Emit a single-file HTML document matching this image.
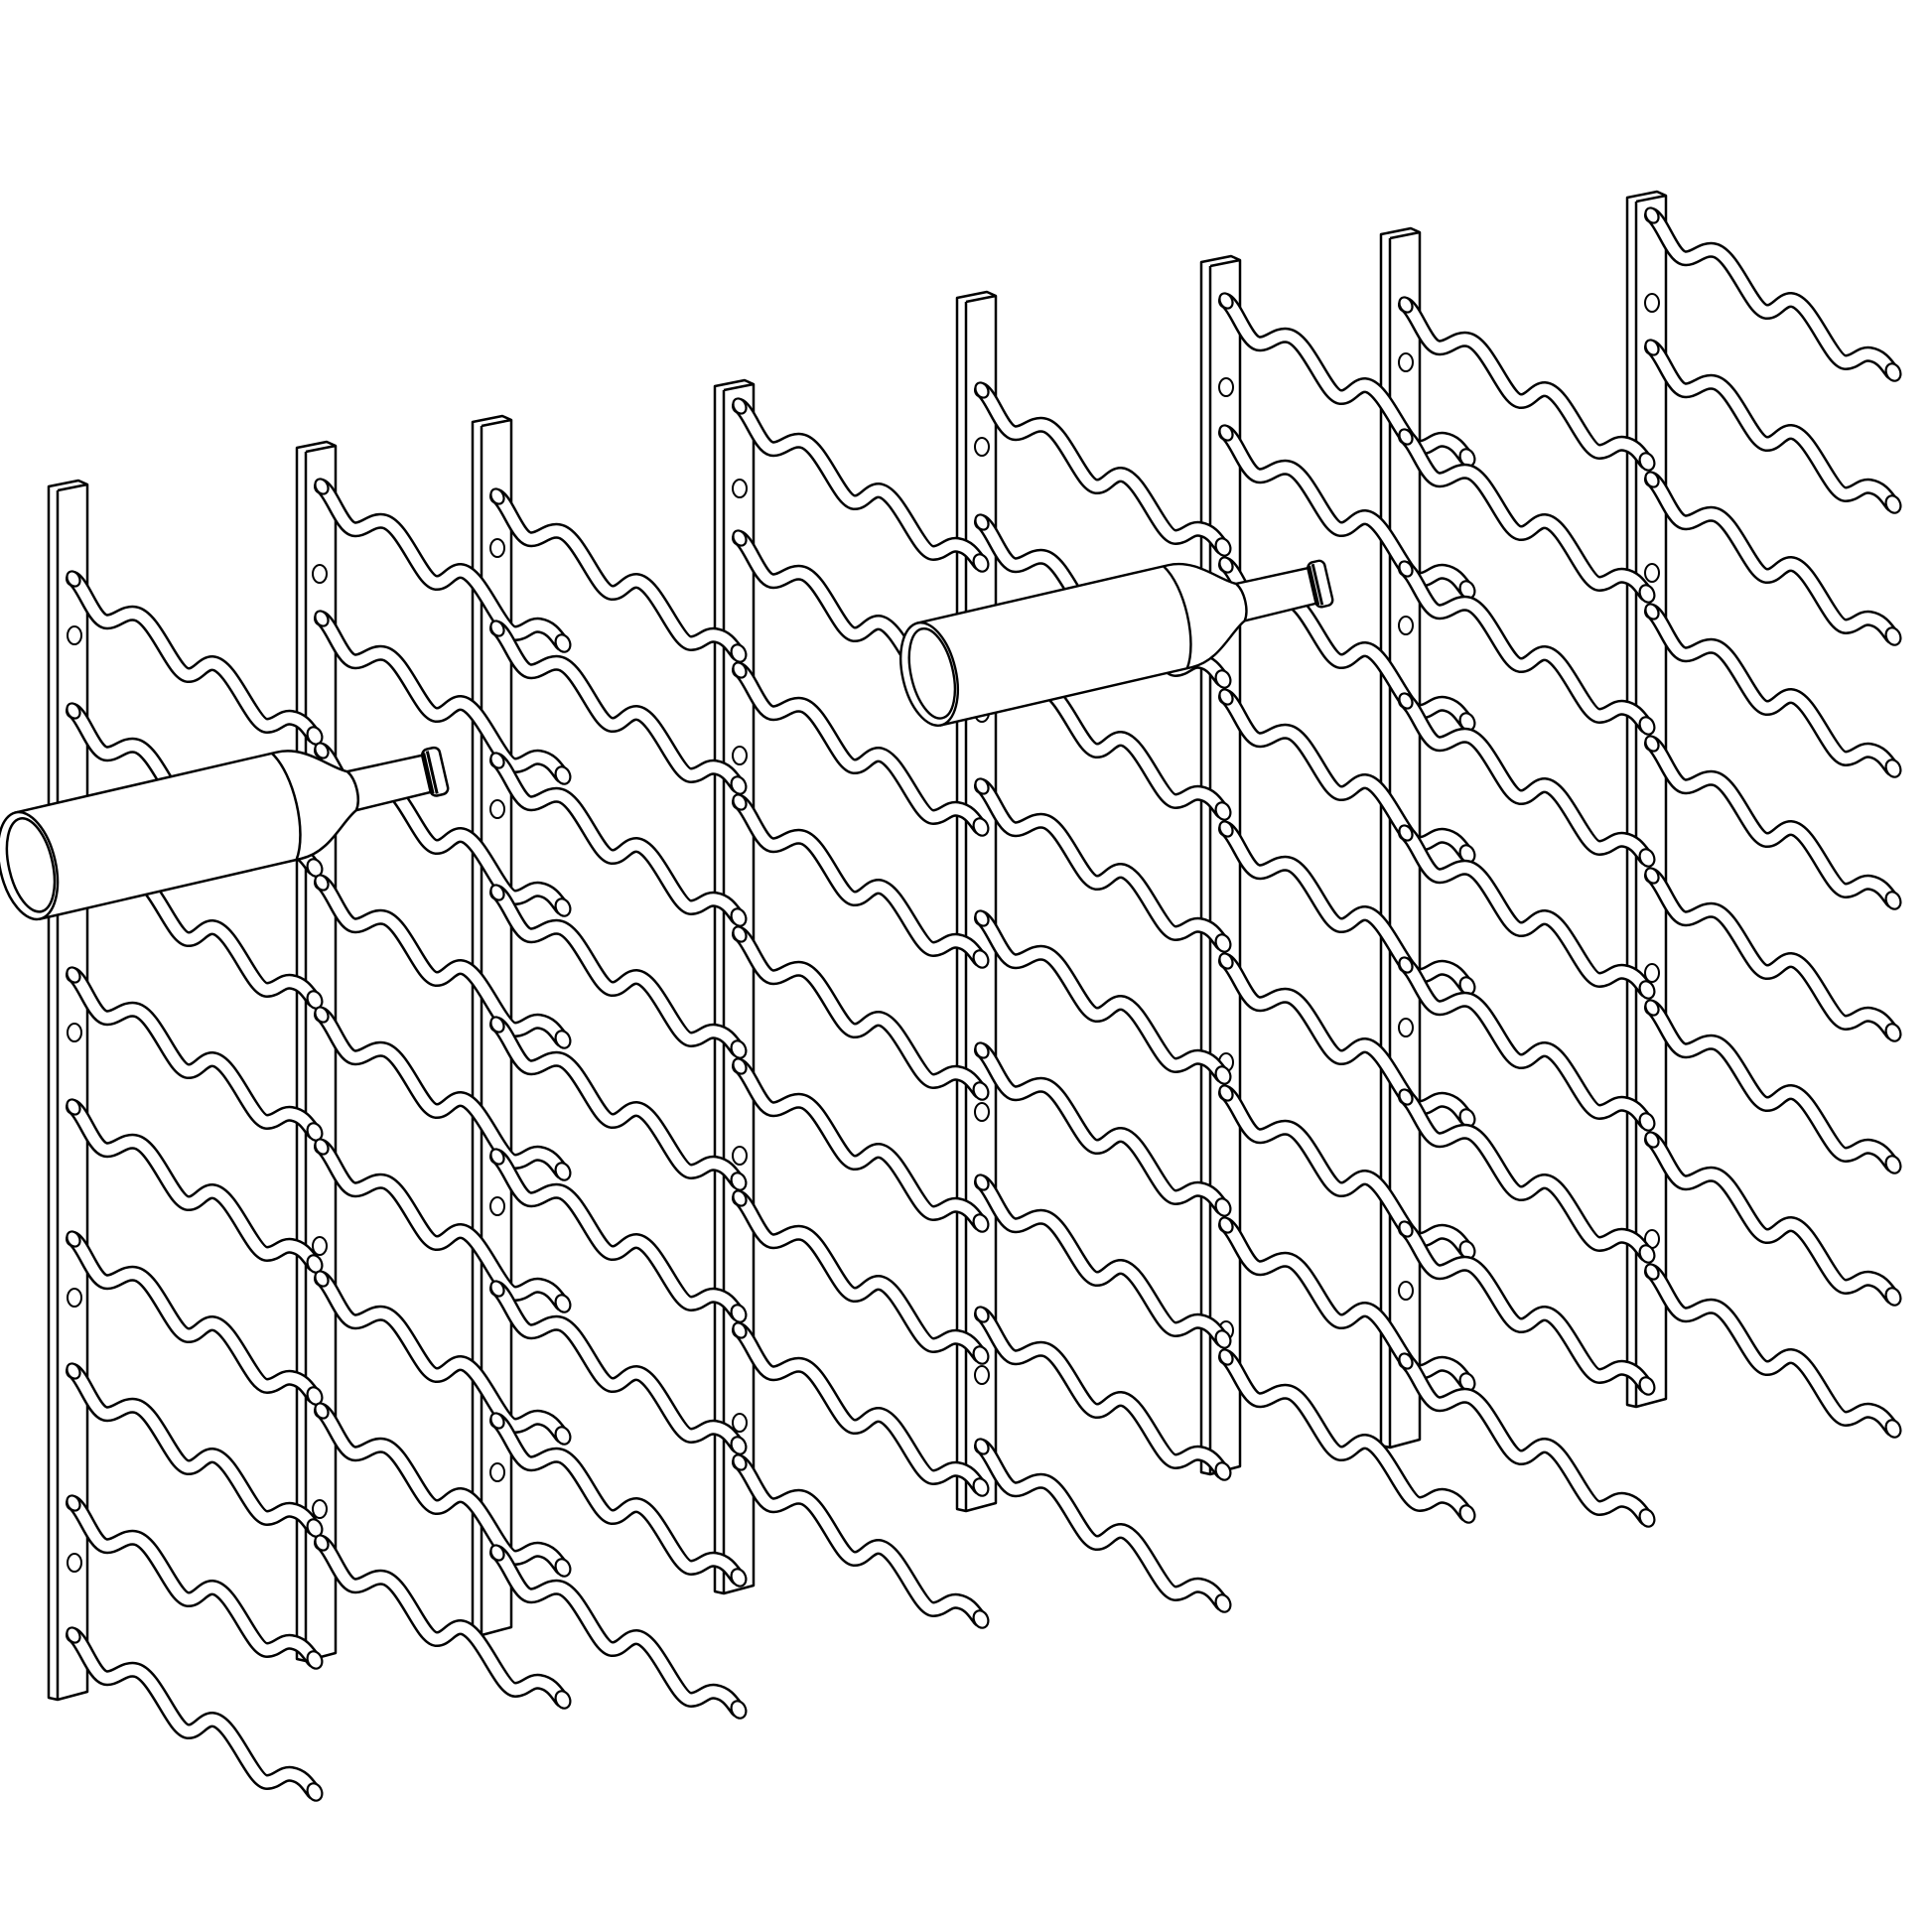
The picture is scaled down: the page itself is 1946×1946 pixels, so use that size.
<!DOCTYPE html>
<html><head><meta charset="utf-8"><style>html,body{margin:0;padding:0;background:#fff}svg{display:block}</style></head>
<body>
<svg width="1946" height="1946" viewBox="0 0 1946 1946" xmlns="http://www.w3.org/2000/svg">
<defs>
<g id="rod">
<path d="M0,0 C10,6 20,40 32,43 C42,45 50,33 62,35 C82,38 100,95 115,97 C125,98 130,85 140,85 C160,86 180,148 195,148 C205,148 210,138 220,140 C232,142 237,152 242,158" fill="none" stroke="#000" stroke-width="16" stroke-linecap="round"/>
<path d="M0,0 C10,6 20,40 32,43 C42,45 50,33 62,35 C82,38 100,95 115,97 C125,98 130,85 140,85 C160,86 180,148 195,148 C205,148 210,138 220,140 C232,142 237,152 242,158" fill="none" stroke="#fff" stroke-width="11" stroke-linecap="round"/>
<ellipse cx="243" cy="158" rx="7" ry="9" transform="rotate(-25 243 158)" fill="#fff" stroke="#000" stroke-width="2.2"/>
<ellipse cx="0" cy="0" rx="6" ry="8" transform="rotate(-30 0 0)" fill="#fff" stroke="#000" stroke-width="2.2"/>
</g>
<g id="bottle" fill="#fff" stroke="#000" stroke-width="2.5">
<path d="M0,-55 L270,-55 C300,-55 318,-28 335,-20 L415,-19 L415,19 L335,20 C318,28 300,55 270,55 L0,55 Z"/>
<path d="M265,-55 C282,-30 282,30 265,55" fill="none"/>
<path d="M335,-20 C342,-10 342,10 335,20" fill="none"/>
<rect x="412" y="-24" width="18" height="48" rx="6"/>
<path d="M414,-21 L414,21 M418,-22 L418,22" fill="none" stroke-width="3"/>
<ellipse cx="0" cy="0" rx="28" ry="55"/>
<ellipse cx="3" cy="0" rx="22" ry="48" fill="none"/>
</g>
</defs>

<g fill="#fff" stroke="#000" stroke-width="2.5" stroke-linejoin="round">
<g id="posts">
<path d="M49,490 L79,484 L88,488 L88,1704 L58,1712 L49,1710 Z M58,494 L88,488 M58,494 L58,1712"/>
<path d="M299,451 L329,445 L338,449 L338,1665 L308,1673 L299,1671 Z M308,455 L338,449 M308,455 L308,1673"/>
<path d="M476,425 L506,419 L515,423 L515,1639 L485,1647 L476,1645 Z M485,429 L515,423 M485,429 L485,1647"/>
<path d="M720,389 L750,383 L759,387 L759,1597 L729,1605 L720,1603 Z M729,393 L759,387 M729,393 L729,1605"/>
<path d="M964,300 L994,294 L1003,298 L1003,1514 L973,1522 L964,1520 Z M973,304 L1003,298 M973,304 L973,1522"/>
<path d="M1210,264 L1240,258 L1249,262 L1249,1477 L1219,1485 L1210,1483 Z M1219,268 L1249,262 M1219,268 L1219,1485"/>
<path d="M1391,236 L1421,230 L1430,234 L1430,1450 L1400,1458 L1391,1456 Z M1400,240 L1430,234 M1400,240 L1400,1458"/>
<path d="M1639,199 L1669,193 L1678,197 L1678,1409 L1648,1417 L1639,1415 Z M1648,203 L1678,197 M1648,203 L1648,1417"/>
</g>
<g fill="none" stroke-width="2">
<ellipse cx="75" cy="640" rx="7" ry="9"/><ellipse cx="75" cy="1307" rx="7" ry="9"/><ellipse cx="75" cy="1574" rx="7" ry="9"/><ellipse cx="75" cy="1040" rx="7" ry="9"/>
<ellipse cx="322" cy="578" rx="7" ry="9"/><ellipse cx="322" cy="1255" rx="7" ry="9"/><ellipse cx="322" cy="1520" rx="7" ry="9"/>
<ellipse cx="501" cy="552" rx="7" ry="9"/><ellipse cx="501" cy="815" rx="7" ry="9"/><ellipse cx="501" cy="1215" rx="7" ry="9"/><ellipse cx="501" cy="1483" rx="7" ry="9"/>
<ellipse cx="745" cy="492" rx="7" ry="9"/><ellipse cx="745" cy="761" rx="7" ry="9"/><ellipse cx="745" cy="1164" rx="7" ry="9"/><ellipse cx="745" cy="1433" rx="7" ry="9"/>
<ellipse cx="989" cy="450" rx="7" ry="9"/><ellipse cx="989" cy="718" rx="7" ry="9"/><ellipse cx="989" cy="1120" rx="7" ry="9"/><ellipse cx="989" cy="1385" rx="7" ry="9"/>
<ellipse cx="1235" cy="390" rx="7" ry="9"/><ellipse cx="1235" cy="1070" rx="7" ry="9"/><ellipse cx="1235" cy="1340" rx="7" ry="9"/>
<ellipse cx="1416" cy="365" rx="7" ry="9"/><ellipse cx="1416" cy="630" rx="7" ry="9"/><ellipse cx="1416" cy="1035" rx="7" ry="9"/><ellipse cx="1416" cy="1300" rx="7" ry="9"/>
<ellipse cx="1664" cy="305" rx="7" ry="9"/><ellipse cx="1664" cy="577" rx="7" ry="9"/><ellipse cx="1664" cy="980" rx="7" ry="9"/><ellipse cx="1664" cy="1248" rx="7" ry="9"/>
</g>
</g>

<g>
<use href="#rod" x="74" y="583"/><use href="#rod" x="74" y="716"/><use href="#rod" x="74" y="849"/><use href="#rod" x="74" y="982"/><use href="#rod" x="74" y="1115"/><use href="#rod" x="74" y="1248"/><use href="#rod" x="74" y="1381"/><use href="#rod" x="74" y="1514"/><use href="#rod" x="74" y="1647"/>
<use href="#rod" x="324" y="490"/><use href="#rod" x="324" y="623"/><use href="#rod" x="324" y="756"/><use href="#rod" x="324" y="889"/><use href="#rod" x="324" y="1022"/><use href="#rod" x="324" y="1155"/><use href="#rod" x="324" y="1288"/><use href="#rod" x="324" y="1421"/><use href="#rod" x="324" y="1554"/>
<use href="#rod" x="501" y="500"/><use href="#rod" x="501" y="633"/><use href="#rod" x="501" y="766"/><use href="#rod" x="501" y="899"/><use href="#rod" x="501" y="1032"/><use href="#rod" x="501" y="1165"/><use href="#rod" x="501" y="1298"/><use href="#rod" x="501" y="1431"/><use href="#rod" x="501" y="1564"/>
<use href="#rod" x="745" y="409"/><use href="#rod" x="745" y="542"/><use href="#rod" x="745" y="675"/><use href="#rod" x="745" y="808"/><use href="#rod" x="745" y="941"/><use href="#rod" x="745" y="1074"/><use href="#rod" x="745" y="1207"/><use href="#rod" x="745" y="1340"/><use href="#rod" x="745" y="1473"/>
<use href="#rod" x="989" y="393"/><use href="#rod" x="989" y="526"/><use href="#rod" x="989" y="659"/><use href="#rod" x="989" y="792"/><use href="#rod" x="989" y="925"/><use href="#rod" x="989" y="1058"/><use href="#rod" x="989" y="1191"/><use href="#rod" x="989" y="1324"/><use href="#rod" x="989" y="1457"/>
<use href="#rod" x="1235" y="303"/><use href="#rod" x="1235" y="436"/><use href="#rod" x="1235" y="569"/><use href="#rod" x="1235" y="702"/><use href="#rod" x="1235" y="835"/><use href="#rod" x="1235" y="968"/><use href="#rod" x="1235" y="1101"/><use href="#rod" x="1235" y="1234"/><use href="#rod" x="1235" y="1367"/>
<use href="#rod" x="1416" y="307"/><use href="#rod" x="1416" y="440"/><use href="#rod" x="1416" y="573"/><use href="#rod" x="1416" y="706"/><use href="#rod" x="1416" y="839"/><use href="#rod" x="1416" y="972"/><use href="#rod" x="1416" y="1105"/><use href="#rod" x="1416" y="1238"/><use href="#rod" x="1416" y="1371"/>
<use href="#rod" x="1664" y="217"/><use href="#rod" x="1664" y="350"/><use href="#rod" x="1664" y="483"/><use href="#rod" x="1664" y="616"/><use href="#rod" x="1664" y="749"/><use href="#rod" x="1664" y="882"/><use href="#rod" x="1664" y="1015"/><use href="#rod" x="1664" y="1148"/><use href="#rod" x="1664" y="1281"/>
</g>

<use href="#bottle" transform="translate(28,872) rotate(-13)"/>
<use href="#bottle" transform="translate(936,679) rotate(-13) scale(0.96)"/>
</svg>
</body></html>
